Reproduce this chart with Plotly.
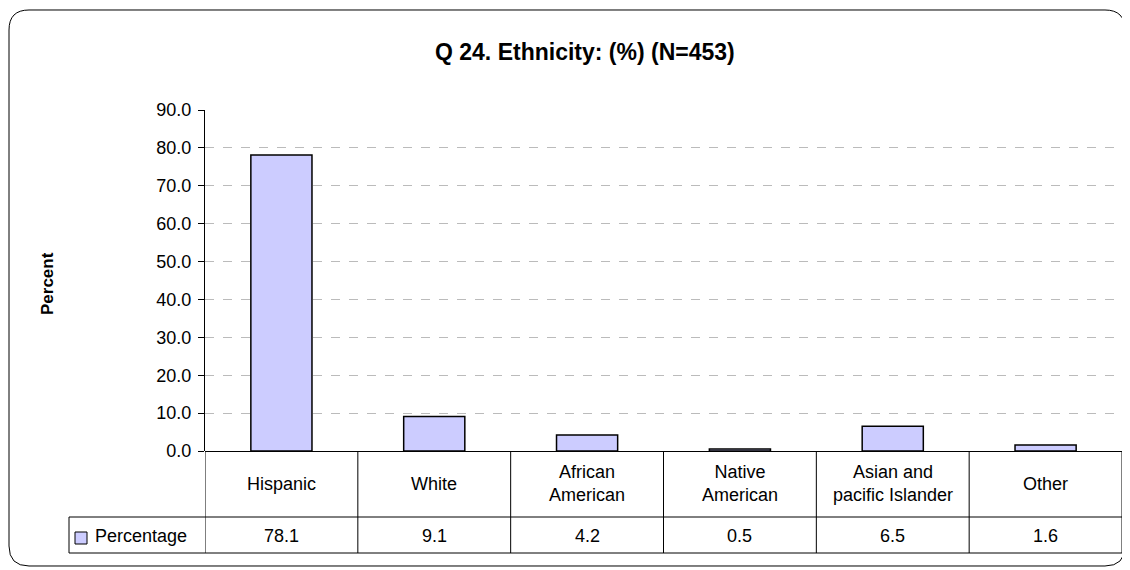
import plotly.graph_objects as go

# chart data
categories = ['Hispanic', 'White', 'African<br>American', 'Native<br>American',
              'Asian and<br>pacific Islander', 'Other']
percentage = [78.1, 9.1, 4.2, 0.5, 6.5, 1.6]
series_name = 'Percentage'
y_ticks = [0, 10, 20, 30, 40, 50, 60, 70, 80, 90]

W, H = 1130, 570
OFF = 8                            # page body margin
L, R, T, B = 205, 1122, 110, 451   # plot area in pixels (page coords)


def px(x):
    return (x - L) / (R - L)


def py(y):
    return (B - y) / (B - T)


xs = list(range(len(categories)))
bar_color = '#CCCCFF'
font = 'Liberation Sans, Arial, sans-serif'

fig = go.Figure(go.Bar(x=xs, y=percentage, name=series_name, width=0.4,
                       marker=dict(color=bar_color, line=dict(color='black', width=1.5))))

shapes = []
# rounded outer border
x0, x1, y0, y1, r = 9, 1125, 10, 566, 20
pts = [('M', x0 + r, y0), ('L', x1 - r, y0), ('Q', x1, y0, x1, y0 + r), ('L', x1, y1 - r),
       ('Q', x1, y1, x1 - r, y1), ('L', x0 + r, y1), ('Q', x0, y1, x0, y1 - r),
       ('L', x0, y0 + r), ('Q', x0, y0, x0 + r, y0)]
path = ''
for p in pts:
    cmd = p[0]
    coords = p[1:]
    segs = []
    for i in range(0, len(coords), 2):
        segs.append('%.5f,%.5f' % (px(coords[i]), py(coords[i + 1])))
    path += cmd + ' ' + ' '.join(segs) + ' '
shapes.append(dict(type='path', xref='paper', yref='paper', path=path + 'Z',
                   line=dict(color='black', width=1), layer='below'))

# data table lines
row1, row2 = 517, 553
line = dict(color='black', width=1)
for i in range(len(categories) + 1):
    shapes.append(dict(type='line', xref='x', yref='paper', x0=i - 0.5, x1=i - 0.5,
                       y0=0, y1=py(row2), line=line))
shapes.append(dict(type='line', xref='paper', yref='paper', x0=px(69), x1=1,
                   y0=py(row1), y1=py(row1), line=line))
shapes.append(dict(type='line', xref='paper', yref='paper', x0=px(69), x1=1,
                   y0=py(row2), y1=py(row2), line=line))
shapes.append(dict(type='line', xref='paper', yref='paper', x0=px(69), x1=px(69),
                   y0=py(row1), y1=py(row2), line=line))
# legend key
shapes.append(dict(type='rect', xref='paper', yref='paper', x0=px(75), x1=px(87),
                   y0=py(544), y1=py(532), fillcolor=bar_color, line=dict(color='black', width=1)))

annotations = []
for i, c in enumerate(categories):
    annotations.append(dict(x=i, y=py((B + row1) / 2), xref='x', yref='paper', text=c,
                            showarrow=False, xanchor='center', yanchor='middle',
                            font=dict(size=18, color='black'), align='center'))
    annotations.append(dict(x=i, y=py((row1 + row2) / 2 + 1), xref='x', yref='paper',
                            text='%.1f' % percentage[i], showarrow=False,
                            xanchor='center', yanchor='middle',
                            font=dict(size=18, color='black')))
annotations.append(dict(x=px(93), y=py((row1 + row2) / 2 + 1), xref='paper', yref='paper',
                        text=series_name, showarrow=False, xanchor='left', yanchor='middle',
                        font=dict(size=18, color='black')))
annotations.append(dict(x=px(585), y=py(52), xref='paper', yref='paper',
                        text='<b>Q 24. Ethnicity: (%) (N=453)</b>', showarrow=False,
                        xanchor='center', yanchor='middle',
                        font=dict(size=23, color='black')))
annotations.append(dict(x=px(47), y=py(284), xref='paper', yref='paper',
                        text='<b>Percent</b>', showarrow=False, textangle=-90,
                        xanchor='center', yanchor='middle',
                        font=dict(size=17, color='black')))

fig.update_layout(
    width=W - OFF, height=H - OFF,
    margin=dict(l=L - OFF, r=W - R, t=T - OFF, b=H - B),
    paper_bgcolor='white', plot_bgcolor='white',
    font=dict(family=font, size=18, color='black'),
    showlegend=False,
    shapes=shapes, annotations=annotations,
    xaxis=dict(range=[-0.5, len(categories) - 0.5], showticklabels=False, showgrid=False,
               zeroline=False, showline=False, fixedrange=True),
    yaxis=dict(range=[0, 90], tickvals=y_ticks, tickformat='.1f', showgrid=True,
               gridcolor='#BBBBBB', griddash='dash', gridwidth=1, showline=True,
               linecolor='black', linewidth=1, ticks='outside', ticklen=6, tickcolor='black',
               zeroline=True, zerolinecolor='black', zerolinewidth=1,
               ticklabelstandoff=3, tickfont=dict(size=18), fixedrange=True),
)

fig.write_html("out.html")
